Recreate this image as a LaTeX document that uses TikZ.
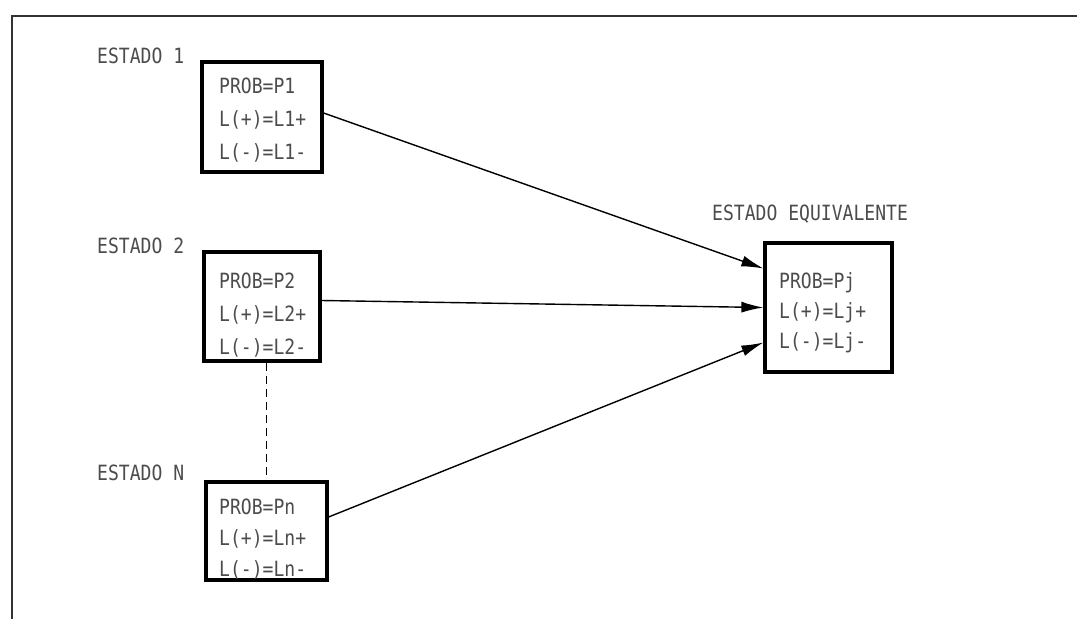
\documentclass[tikz,border=0pt]{standalone}
\usepackage{fontspec}
\newfontfamily\plotfont[FakeStretch=0.86]{DejaVu Sans Mono}
\usetikzlibrary{arrows.meta,calc}
\begin{document}
\begin{tikzpicture}[x=1pt,y=-1pt,
  stbox/.style={draw=black,line width=3.2pt,rectangle,inner sep=0pt},
  txt/.style={anchor=north west,inner sep=0pt,text=black!70,align=left,
     font=\plotfont\fontsize{21}{33}\selectfont},
  conn/.style={draw=black,line width=1.4pt,-{Latex[length=22pt,width=11pt]}},
  frame/.style={draw=black!80,line width=2pt}]
\useasboundingbox (0,0) rectangle (1077,619);
\coordinate (ftr) at (1077,16);
\coordinate (ftl) at (12,16);
\coordinate (fbl) at (12,619);
\draw[frame] (ftr) -- (ftl) -- (fbl);
% boxes
\node[stbox,minimum width=120pt,minimum height=110pt] (b1) at (262,117) {};
\node[stbox,minimum width=116pt,minimum height=109pt] (b2) at (262,306.5) {};
\node[stbox,minimum width=121pt,minimum height=98pt] (bN) at (266.5,531) {};
\node[stbox,minimum width=127pt,minimum height=129pt] (bJ) at (828.5,307.5) {};
% box texts
\node[txt] (t1) at (219,78) {PROB=P1\\L(+)=L1+\\L(-)=L1-};
\node[txt] (t2) at (219,273) {PROB=P2\\L(+)=L2+\\L(-)=L2-};
\node[txt,font=\plotfont\fontsize{21}{31}\selectfont] (tN) at (219,499) {PROB=Pn\\L(+)=Ln+\\L(-)=Ln-};
\node[txt,font=\plotfont\fontsize{21}{30}\selectfont] (tJ) at (779,272) {PROB=Pj\\L(+)=Lj+\\L(-)=Lj-};
% labels
\node[txt] (l1) at (97,48) {ESTADO 1};
\node[txt] (l2) at (97,238) {ESTADO 2};
\node[txt] (lN) at (97,465) {ESTADO N};
\node[txt] (lJ) at (712,205) {ESTADO EQUIVALENTE};
% connectors
\draw[conn] ([yshift=4pt]b1.east) -- ([yshift=39pt]bJ.west);
\draw[conn] ([yshift=6pt]b2.east) -- ([yshift=0pt]bJ.west);
\draw[conn] ([yshift=14pt]bN.east) -- ([yshift=-35pt]bJ.west);
\draw[line width=1.4pt,dash pattern=on 8pt off 5pt] (bN.north |- b2.south) -- (bN.north);
\end{tikzpicture}
\end{document}
